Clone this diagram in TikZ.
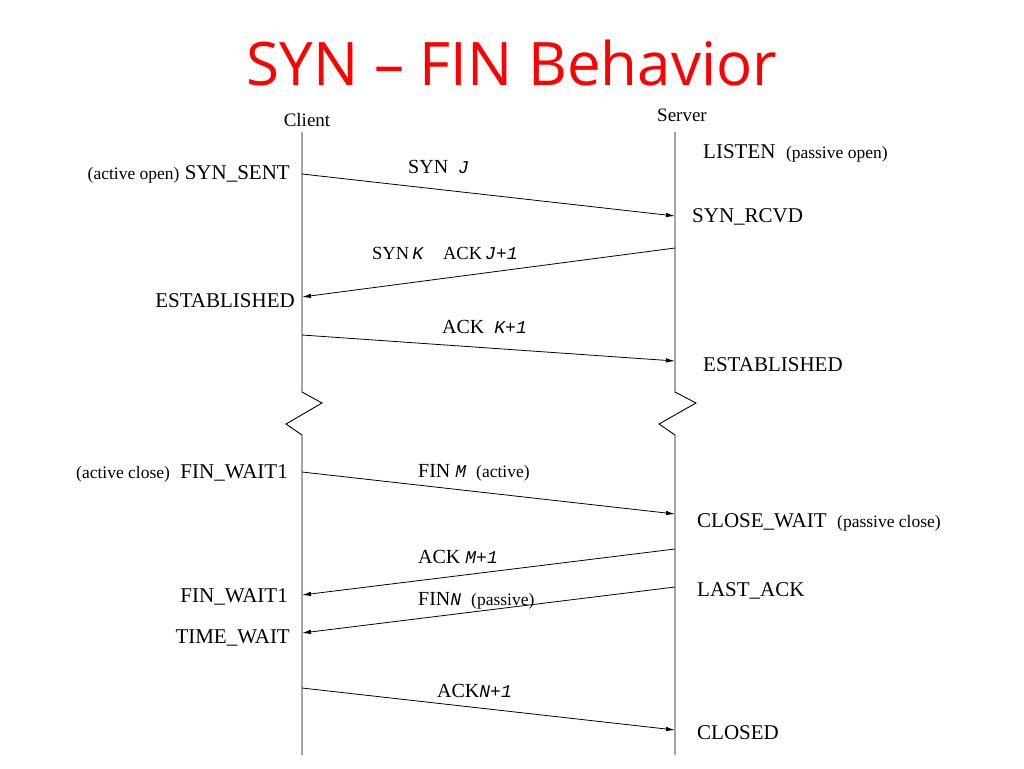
\documentclass[tikz,border=0pt]{standalone}
\usepackage{fontspec}
\setmainfont{Liberation Serif}
\newfontfamily\titlefont{Open Sans}
\newfontfamily\pktfont{Liberation Mono}
\usetikzlibrary{arrows.meta,positioning}
\definecolor{titlered}{RGB}{255,0,0}

\newcommand{\seqno}[1]{{\pktfont\itshape\fontsize{18}{18}\selectfont #1}}
\newcommand{\aside}[1]{{\fontsize{17.5}{17.5}\selectfont #1}}

\tikzset{
  lifeline/.style={line width=0.9pt},
  msgline/.style={-{Latex[length=9pt,width=4.5pt]}, line width=0.8pt},
  cstate/.style={anchor=base east, inner sep=0pt, font=\fontsize{21}{21}\selectfont},
  sstate/.style={anchor=base west, inner sep=0pt, font=\fontsize{21}{21}\selectfont},
  msg/.style={anchor=base west, inner sep=0pt, font=\fontsize{20}{20}\selectfont},
  host/.style={anchor=base, inner sep=0pt, font=\fontsize{19}{19}\selectfont},
}

\begin{document}
\begin{tikzpicture}[x=1pt,y=-1pt]
  \useasboundingbox (0,0) rectangle (1024,768);

  \node[anchor=base, inner sep=0pt, text=titlered, font=\titlefont\fontsize{60}{60}\selectfont]
    (title) at (512,85) {SYN \textendash{} FIN Behavior};

  % hosts
  \node[host] (client) at (307,126) {Client};
  \node[host] (server) at (682,121) {Server};

  % lifelines with break
  \draw[lifeline] (302,132) -- (302,392) -- (322,403) -- (286,424) -- (302,435) -- (302,755);
  \draw[lifeline] (675,132) -- (675,392) -- (696,403) -- (659,424) -- (675,435) -- (675,755);

  % end points on the lifelines
  \coordinate (c1) at (302,174);
  \coordinate (s1) at (675,216);
  \coordinate (s2) at (675,248);
  \coordinate (c2) at (302,297);
  \coordinate (c3) at (302,335);
  \coordinate (s3) at (675,361);
  \coordinate (c4) at (302,472);
  \coordinate (s4) at (675,514);
  \coordinate (s5) at (675,549);
  \coordinate (c5) at (302,595);
  \coordinate (s6) at (675,587);
  \coordinate (c6) at (302,633);
  \coordinate (c7) at (302,688);
  \coordinate (s7) at (675,730);

  % client states
  \node[cstate] (synsent) at (290,179) {\aside{(active open)} SYN\_SENT};
  \node[cstate] (estc) at (295,307) {ESTABLISHED};
  \node[cstate] (finw1a) at (288,478) {\aside{(active close)}\ \ FIN\_WAIT1};
  \node[cstate] (finw1b) at (288,602) {FIN\_WAIT1};
  \node[cstate] (timew) at (290,643) {TIME\_WAIT};

  % server states
  \node[sstate] (listen) at (703,158) {LISTEN\ \ \aside{(passive open)}};
  \node[sstate] (synrcvd) at (692,222) {SYN\_RCVD};
  \node[sstate] (ests) at (703,371) {ESTABLISHED};
  \node[sstate] (closew) at (697,527) {CLOSE\_WAIT\ \ \aside{(passive close)}};
  \node[sstate] (lastack) at (697,596) {LAST\_ACK};
  \node[sstate] (closed) at (697,739) {CLOSED};

  % segments
  \path[msgline]
    (c1) edge (s1)
    (s2) edge (c2)
    (c3) edge (s3)
    (c4) edge (s4)
    (s5) edge (c5)
    (s6) edge (c6)
    (c7) edge (s7);

  \node[msg] (msyn) at (408,173) {SYN\ \ \seqno{J}};
  \node[msg, font=\fontsize{18.5}{18.5}\selectfont] (msynack) at (372,259)
    {SYN\,\seqno{K}\hspace{20pt}ACK\,\seqno{J+1}};
  \node[msg] (mack) at (442,333) {ACK\ \ \seqno{K+1}};
  \node[msg] (mfin) at (418,477) {FIN\ \seqno{M}\ \ \aside{(active)}};
  \node[msg] (mackm) at (418,563) {ACK \seqno{M+1}};
  \node[msg] (mfinn) at (418,605) {FIN\seqno{N}\ \ \aside{(passive)}};
  \node[msg] (mackn) at (437,697) {ACK\seqno{N+1}};
\end{tikzpicture}
\end{document}
